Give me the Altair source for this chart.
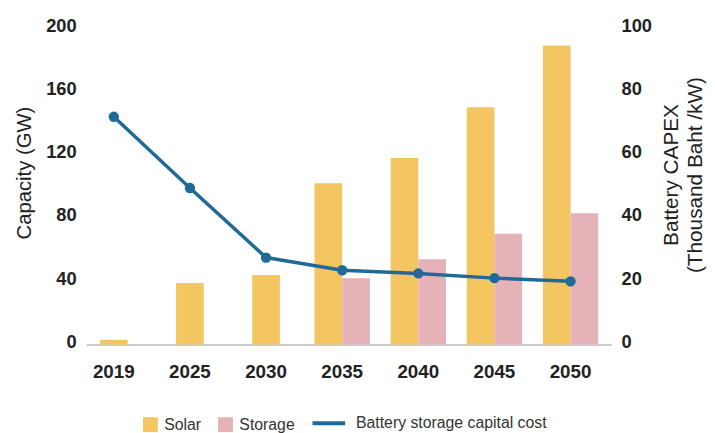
import altair as alt
import pandas as pd

years = ["2019", "2025", "2030", "2035", "2040", "2045", "2050"]
solar = [3, 39, 44, 102, 118, 150, 189]
storage = [None, None, None, 42, 54, 70, 83]
capex = [72, 49.5, 27.5, 23.5, 22.5, 21, 20]

FONT = "Liberation Sans"
TXT = "#222222"
C_SOLAR = "#F3C662"
C_STORAGE = "#E4B2B7"
C_LINE = "#1F6A96"

rows = []
for y, s, st in zip(years, solar, storage):
    rows.append({"year": y, "series": "Solar", "value": s, "slot": "C" if st is None else "L"})
    if st is not None:
        rows.append({"year": y, "series": "Storage", "value": st, "slot": "R"})
df_bars = pd.DataFrame(rows)
df_line = pd.DataFrame({"year": years, "capex": capex, "name": "Battery storage capital cost"})

x_scale = alt.Scale(paddingInner=0.2727, paddingOuter=0.0844, align=0)
x_axis = alt.Axis(title=None, labelAngle=0, labelFont=FONT, labelFontSize=19, labelFontWeight="bold",
                  labelColor=TXT, ticks=False, domainColor="#cccccc", domainWidth=2, labelPadding=18)

bars = alt.Chart(df_bars).mark_bar(size=28).encode(
    x=alt.X("year:N", sort=years, scale=x_scale, axis=x_axis),
    xOffset=alt.XOffset("slot:N", scale=alt.Scale(domain=["L", "C", "R"], paddingInner=0, paddingOuter=0.5)),
    y=alt.Y("value:Q", scale=alt.Scale(domain=[0, 200]),
            axis=alt.Axis(title="Capacity (GW)", values=[0, 40, 80, 120, 160, 200], domain=False, ticks=False,
                          grid=False, labelFont=FONT, labelFontSize=18.5, labelFontWeight="bold", labelColor=TXT,
                          labelPadding=10, labelOffset=-3, titleFont=FONT, titleFontSize=20.5,
                          titleFontWeight="normal", titleColor=TXT, titlePadding=11, titleY=146)),
    color=alt.Color("series:N", scale=alt.Scale(domain=["Solar", "Storage"], range=[C_SOLAR, C_STORAGE]),
                    legend=alt.Legend(orient="none", legendX=57, legendY=393, direction="horizontal", title=None,
                                      symbolType="square", symbolSize=225, symbolStrokeWidth=0,
                                      labelFont=FONT, labelFontSize=16, labelColor="#333333", labelOffset=6,
                                      columnPadding=16, padding=0)),
)

y_right = alt.Y("capex:Q", scale=alt.Scale(domain=[0, 100]),
                axis=alt.Axis(orient="right", title=["Battery CAPEX", "(Thousand Baht /kW)"], titleAngle=270,
                              values=[0, 20, 40, 60, 80, 100], domain=False, ticks=False, grid=False,
                              labelFont=FONT, labelFontSize=18.5, labelFontWeight="bold", labelColor=TXT,
                              labelPadding=10, labelOffset=-3, titleFont=FONT, titleFontSize=21,
                              titleFontWeight="normal", titleColor=TXT, titlePadding=5, titleLineHeight=25,
                              titleY=148))

line = alt.Chart(df_line).mark_line(strokeWidth=3.5).encode(
    x=alt.X("year:N", sort=years, scale=x_scale, axis=x_axis),
    y=y_right,
    stroke=alt.Stroke("name:N", scale=alt.Scale(range=[C_LINE]),
                      legend=alt.Legend(orient="none", legendX=227, legendY=381, direction="horizontal",
                                        title=None, symbolType="stroke", symbolSize=1089, symbolStrokeWidth=4,
                                        labelFont=FONT, labelFontSize=16, labelColor="#333333", labelOffset=9,
                                        labelLimit=400, padding=0)),
)
points = alt.Chart(df_line).mark_circle(size=110, opacity=1, color=C_LINE).encode(
    x=alt.X("year:N", sort=years, scale=x_scale, axis=x_axis),
    y=y_right,
)

right = alt.layer(line, points)

chart = alt.layer(bars, right).resolve_scale(y="independent").properties(
    width=531, height=320,
    padding={"left": 79, "top": 18, "right": 97, "bottom": 88},
    autosize=alt.AutoSizeParams(type="none"),
).configure_view(stroke=None).configure_axis(grid=False)

chart.save("out.html", embed_options={"renderer": "svg", "actions": False})
